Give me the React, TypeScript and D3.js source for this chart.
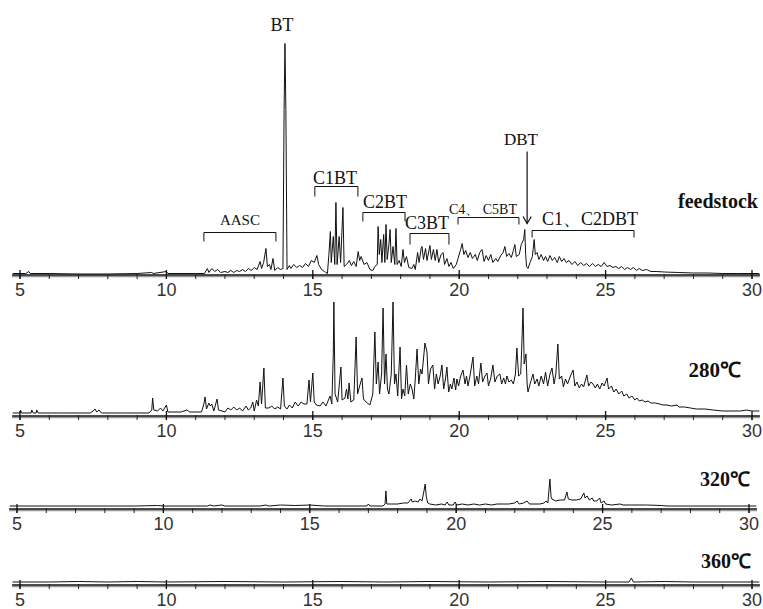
import { useEffect, useRef } from "react";
import * as d3 from "d3";

// retention time (min), abundance (arbitrary units)
const feedstock: [number, number][] = [
  [4.75, 1], [5.2, 1], [5.3, 3], [5.35, 1], [6.0, 1], [7.0, 0.5], [8.0, 0.5], [9.0, 1], [9.5, 2], [9.55, 1], [10.0, 3], [10.05, 1], [11.0, 1], [11.3, 1],
  [11.4, 6], [11.45, 2], [11.55, 6], [11.65, 3], [11.75, 5], [11.85, 2], [12.0, 3], [12.1, 2], [12.2, 4], [12.3, 2], [12.4, 4], [12.5, 3], [12.6, 5], [12.7, 3], [12.8, 6], [12.9, 4], [13.0, 7], [13.1, 5], [13.2, 13], [13.25, 6], [13.32, 12], [13.4, 26], [13.45, 8], [13.52, 10], [13.57, 5], [13.64, 16], [13.7, 4], [13.8, 7], [13.9, 5],
  [13.98, 6], [14.02, 165], [14.05, 231], [14.08, 165], [14.12, 5],
  [14.2, 9], [14.25, 6], [14.35, 10], [14.45, 7], [14.55, 9], [14.65, 7], [14.75, 11], [14.85, 8], [14.95, 14], [15.05, 12], [15.14, 19], [15.2, 10], [15.3, 5], [15.4, 3], [15.5, 1],
  [15.55, 20], [15.6, 43], [15.63, 12], [15.7, 38], [15.75, 10], [15.79, 72], [15.83, 10], [15.9, 38], [15.95, 12], [16.03, 67], [16.07, 8], [16.15, 10], [16.25, 14], [16.32, 9], [16.4, 13], [16.48, 8], [16.55, 23], [16.6, 14], [16.65, 18], [16.75, 10], [16.85, 12], [16.95, 5], [17.05, 4], [17.12, 8],
  [17.2, 10], [17.23, 48], [17.27, 20], [17.32, 35], [17.36, 12], [17.42, 40], [17.46, 12], [17.5, 50], [17.54, 15], [17.6, 30], [17.64, 45], [17.68, 12], [17.74, 28], [17.8, 10], [17.84, 46], [17.88, 10], [17.95, 14], [18.02, 8], [18.08, 25], [18.13, 12], [18.2, 18], [18.28, 7], [18.38, 6], [18.45, 10], [18.5, 5],
  [18.58, 22], [18.63, 12], [18.7, 26], [18.73, 28], [18.78, 15], [18.85, 26], [18.9, 14], [19.0, 29], [19.05, 15], [19.12, 25], [19.18, 14], [19.24, 25], [19.3, 12], [19.38, 20], [19.45, 22], [19.5, 10], [19.58, 16], [19.65, 8], [19.72, 12], [19.8, 6], [19.9, 10], [19.96, 16],
  [20.05, 25], [20.1, 31], [20.16, 20], [20.22, 24], [20.3, 17], [20.38, 22], [20.45, 16], [20.55, 20], [20.62, 14], [20.7, 22], [20.78, 25], [20.85, 13], [20.92, 19], [21.0, 14], [21.08, 20], [21.15, 12], [21.25, 16], [21.32, 13], [21.42, 19], [21.5, 22], [21.56, 28], [21.62, 18], [21.7, 21], [21.78, 17], [21.85, 24], [21.9, 30], [21.95, 18], [22.05, 20],
  [22.12, 30], [22.2, 35], [22.24, 45], [22.27, 20], [22.3, 8], [22.35, 6], [22.42, 12], [22.5, 18], [22.56, 35], [22.6, 20], [22.66, 22], [22.72, 15], [22.8, 20], [22.88, 14], [22.95, 18], [23.02, 13], [23.1, 19], [23.18, 14], [23.26, 17], [23.35, 12], [23.42, 18], [23.5, 13], [23.58, 16], [23.66, 12], [23.75, 14], [23.85, 10], [23.95, 13], [24.05, 9], [24.15, 12], [24.25, 9], [24.35, 11], [24.45, 8], [24.55, 11], [24.65, 8], [24.75, 10], [24.85, 8], [24.95, 12], [25.05, 8], [25.15, 9], [25.25, 7], [25.35, 8], [25.45, 6], [25.55, 8], [25.65, 5], [25.75, 7], [25.85, 5], [25.95, 7], [26.05, 4], [26.15, 6], [26.25, 4], [26.4, 5], [26.55, 3], [26.75, 3], [27.0, 2.5], [27.5, 2], [28.0, 1.5], [28.5, 1.5], [29.0, 1], [29.5, 1], [30.0, 1], [30.25, 1],
];

const run280: [number, number][] = [
  [4.75, 1], [5.0, 1], [5.02, 4], [5.05, 1], [5.38, 1], [5.4, 4], [5.45, 1], [5.55, 1], [5.57, 4], [5.62, 1], [6.5, 1], [7.4, 1], [7.5, 3], [7.56, 5], [7.62, 2], [7.7, 4], [7.78, 1], [8.5, 1], [9.4, 1], [9.5, 4], [9.53, 16], [9.57, 4], [9.7, 3], [9.8, 6], [9.88, 3], [10.0, 9], [10.05, 2], [10.5, 2], [10.7, 4], [10.8, 2], [11.2, 2],
  [11.28, 10], [11.32, 17], [11.37, 5], [11.45, 11], [11.5, 8], [11.55, 10], [11.62, 3], [11.73, 15], [11.78, 4], [11.9, 3], [12.0, 2], [12.1, 6], [12.2, 4], [12.3, 7], [12.4, 4], [12.5, 6], [12.6, 3], [12.72, 8], [12.8, 4], [12.88, 6], [12.95, 12], [13.0, 3], [13.08, 14], [13.14, 8], [13.2, 32], [13.25, 10], [13.33, 46], [13.38, 6], [13.5, 6], [13.6, 8], [13.7, 5], [13.8, 7], [13.9, 5],
  [13.98, 36], [14.03, 8], [14.12, 5], [14.2, 9], [14.3, 6], [14.4, 12], [14.5, 8], [14.6, 12], [14.7, 10], [14.8, 10], [14.87, 34], [14.92, 12], [15.0, 41], [15.05, 12], [15.12, 9], [15.25, 8], [15.35, 12], [15.45, 8], [15.59, 18], [15.65, 10],
  [15.7, 60], [15.72, 112], [15.76, 20], [15.85, 12], [15.96, 47], [16.0, 14], [16.1, 16], [16.15, 25], [16.2, 15], [16.24, 31], [16.3, 12], [16.4, 14], [16.48, 77], [16.53, 20], [16.6, 28], [16.68, 36], [16.73, 15], [16.82, 12], [16.95, 9], [17.05, 20],
  [17.12, 82], [17.17, 30], [17.23, 52], [17.28, 20], [17.35, 40], [17.4, 106], [17.45, 30], [17.5, 60], [17.55, 25], [17.6, 20], [17.68, 40], [17.74, 112], [17.79, 30], [17.84, 40], [17.9, 18], [17.98, 67], [18.03, 15], [18.08, 25], [18.14, 18], [18.2, 49], [18.26, 20], [18.33, 30], [18.39, 25], [18.45, 15], [18.5, 35], [18.56, 65], [18.62, 30], [18.68, 45], [18.73, 40], [18.78, 55], [18.83, 71], [18.9, 62], [18.95, 30], [19.02, 45], [19.1, 49], [19.16, 25], [19.22, 40], [19.28, 30], [19.35, 38], [19.41, 49], [19.47, 25], [19.53, 35], [19.58, 47], [19.64, 22], [19.7, 30], [19.75, 25], [19.82, 36], [19.88, 24], [19.92, 35], [19.98, 28],
  [20.05, 38], [20.13, 44], [20.2, 30], [20.25, 38], [20.3, 28], [20.38, 40], [20.47, 57], [20.53, 28], [20.6, 38], [20.66, 30], [20.74, 51], [20.8, 32], [20.88, 38], [20.95, 41], [21.0, 28], [21.08, 36], [21.15, 49], [21.22, 32], [21.3, 38], [21.39, 40], [21.45, 30], [21.52, 36], [21.58, 30], [21.63, 38], [21.7, 32], [21.78, 34], [21.85, 30], [21.92, 40], [21.97, 66], [22.03, 38], [22.1, 40], [22.14, 70], [22.18, 106], [22.22, 50], [22.28, 60], [22.32, 30], [22.35, 22],
  [22.42, 30], [22.52, 40], [22.58, 30], [22.66, 35], [22.72, 28], [22.8, 38], [22.88, 30], [22.95, 42], [23.02, 28], [23.1, 40], [23.17, 46], [23.24, 30], [23.3, 40], [23.37, 70], [23.42, 35], [23.5, 38], [23.56, 27], [23.63, 35], [23.7, 30], [23.8, 38], [23.89, 44], [23.95, 28], [24.02, 32], [24.1, 26], [24.18, 30], [24.25, 27], [24.36, 39], [24.42, 28], [24.5, 32], [24.57, 30], [24.65, 26], [24.72, 30], [24.8, 25], [24.88, 31], [24.95, 28], [25.05, 36], [25.1, 25], [25.2, 28], [25.28, 22], [25.36, 25], [25.45, 20], [25.55, 23], [25.62, 18], [25.72, 20], [25.8, 16], [25.9, 18], [26.0, 14], [26.07, 16], [26.15, 13], [26.25, 14], [26.35, 12], [26.45, 13], [26.55, 11], [26.7, 11], [26.85, 10], [26.96, 9], [27.1, 9], [27.25, 8], [27.44, 9], [27.5, 7], [27.7, 7], [27.9, 6], [28.1, 5], [28.4, 5], [28.67, 4], [29.0, 3], [29.25, 3], [29.6, 3], [29.8, 4], [30.0, 3], [30.25, 3],
];

const run320: [number, number][] = [
  [4.75, 1], [9.0, 1], [9.8, 1.5], [10.0, 1], [11.5, 1], [11.6, 2], [11.7, 1], [12.0, 2], [12.1, 1], [13.3, 1], [13.5, 2], [13.6, 1], [14.0, 2], [14.5, 1.5], [15.0, 2], [15.5, 1], [16.5, 1], [16.95, 1], [17.0, 3], [17.05, 1], [17.5, 1], [17.57, 3], [17.6, 16], [17.63, 3],
  [17.8, 3], [18.0, 3], [18.2, 4], [18.35, 4], [18.46, 8], [18.5, 5], [18.6, 6], [18.7, 5], [18.76, 8], [18.83, 6], [18.9, 16], [18.94, 23], [18.98, 10], [19.03, 4], [19.1, 3], [19.3, 2], [19.5, 3], [19.62, 2], [19.69, 5], [19.75, 2], [19.9, 2], [19.96, 5], [20.02, 2],
  [20.2, 3], [20.4, 2], [20.6, 3], [20.8, 2], [21.0, 3], [21.2, 2], [21.4, 3], [21.6, 3], [21.8, 3], [22.0, 4], [22.08, 6], [22.15, 3], [22.3, 4], [22.42, 6], [22.5, 3], [22.86, 3], [23.0, 4], [23.07, 6], [23.13, 4], [23.2, 28], [23.24, 10], [23.27, 8],
  [23.4, 6], [23.55, 7], [23.7, 7], [23.78, 15], [23.83, 8], [23.95, 7], [24.1, 7], [24.25, 8], [24.36, 14], [24.4, 9], [24.47, 11], [24.55, 7], [24.64, 9], [24.7, 6], [24.8, 6], [24.9, 9], [24.95, 4], [25.05, 6], [25.1, 3], [25.3, 2], [25.6, 3], [25.7, 2], [26.0, 2], [26.5, 2], [27.0, 1.5], [27.2, 1], [28.0, 1], [30.25, 1],
];

const run360: [number, number][] = [
  [4.75, 1], [6, 1], [7, 1.5], [8, 1], [9, 1.5], [10, 1], [12, 1.5], [14, 1], [16, 1.5], [17.5, 1], [19, 1.5], [21, 1], [23, 1.5], [25, 1], [25.8, 1], [25.88, 5], [25.95, 1], [27, 1.5], [28, 1], [30.25, 1],
];

const seriesNames = ["feedstock", "280℃", "320℃", "360℃"];
const majorTicks = [5, 10, 15, 20, 25, 30];
const minorTicks = d3.range(5, 31);

// bracket groups on the feedstock trace: [label, start, end, top, bottom, labelT, labelH]
const groups: [string, number, number, number, number, number, number][] = [
  ["AASC", 11.28, 13.74, 42, 33, 12.51, 50],
  ["C1BT", 15.07, 16.54, 88, 78, 15.76, 91],
  ["C2BT", 16.71, 18.15, 62, 53, 17.47, 67],
  ["C3BT", 18.32, 19.65, 41, 30, 18.9, 46],
  ["C4、 C5BT", 19.96, 22.04, 57, 50, 20.81, 61],
  ["C1、C2DBT", 22.49, 25.97, 44, 37, 24.47, 50],
];

const W = 763;
const H = 609;
// layout per panel: axis y, trace lift, x shift, label right edge, label baseline
const panels = [
  { data: feedstock, axisY: 275, lift: 0.5, shift: 0, labelX: 758, labelY: 208, size: 20 },
  { data: run280, axisY: 416, lift: 2, shift: 0, labelX: 741, labelY: 377, size: 21 },
  { data: run320, axisY: 509, lift: 2, shift: -3, labelX: 750, labelY: 486, size: 20 },
  { data: run360, axisY: 585, lift: 2, shift: 0, labelX: 751, labelY: 568, size: 20 },
];

export default function App() {
  const svgRef = useRef<SVGSVGElement>(null);

  useEffect(() => {
    const svg = d3.select(svgRef.current);
    svg.selectAll("*").remove();
    svg.append("rect").attr("width", W).attr("height", H).attr("fill", "#fff");

    panels.forEach((p, i) => {
      const x = d3
        .scaleLinear()
        .domain([5, 30])
        .range([20 + p.shift, 752 + p.shift]);
      const base = p.axisY - p.lift;
      const y = d3.scaleLinear().domain([0, 100]).range([base, base - 100]);
      const g = svg.append("g");

      // axis: dark rule with a grey shadow underneath
      g.append("line")
        .attr("x1", x(4.73)).attr("x2", x(30.27))
        .attr("y1", p.axisY + 1.5).attr("y2", p.axisY + 1.5)
        .attr("stroke", "#999").attr("stroke-width", 1.6);
      g.append("line")
        .attr("x1", x(4.73)).attr("x2", x(30.27))
        .attr("y1", p.axisY).attr("y2", p.axisY)
        .attr("stroke", "#111").attr("stroke-width", 1.5);
      g.selectAll(".minor")
        .data(minorTicks)
        .enter()
        .append("line")
        .attr("x1", (d) => x(d)).attr("x2", (d) => x(d))
        .attr("y1", p.axisY - 1).attr("y2", p.axisY + 4)
        .attr("stroke", "#222");
      g.selectAll(".major")
        .data(majorTicks)
        .enter()
        .append("line")
        .attr("x1", (d) => x(d)).attr("x2", (d) => x(d))
        .attr("y1", p.axisY - 5).attr("y2", p.axisY + 4)
        .attr("stroke", "#111").attr("stroke-width", 1.3);
      g.selectAll(".lbl")
        .data(majorTicks)
        .enter()
        .append("text")
        .attr("x", (d) => x(d))
        .attr("y", p.axisY + 21)
        .attr("text-anchor", "middle")
        .attr("font-family", "'Liberation Sans Narrow', 'Arial Narrow', sans-serif")
        .attr("font-size", 18)
        .attr("fill", "#333")
        .text((d) => d);

      // trace
      const line = d3
        .line<[number, number]>()
        .x((d) => x(d[0]))
        .y((d) => y(d[1]));
      g.append("path")
        .datum(p.data)
        .attr("d", line)
        .attr("fill", "none")
        .attr("stroke", "#111")
        .attr("stroke-width", 1);

      g.append("text")
        .attr("x", p.labelX)
        .attr("y", p.labelY)
        .attr("text-anchor", "end")
        .attr("font-family", "'Times New Roman', 'Liberation Serif', serif")
        .attr("font-weight", "bold")
        .attr("font-size", p.size)
        .attr("fill", "#111")
        .text(seriesNames[i]);

      if (i === 0) {
        const serif = "'Times New Roman', 'Liberation Serif', serif";
        g.append("text")
          .attr("x", x(13.95)).attr("y", y(244))
          .attr("text-anchor", "middle")
          .attr("font-family", serif).attr("font-size", 18).attr("fill", "#111")
          .text("BT");
        groups.forEach(([label, t0, t1, top, bot, lt, lh]) => {
          g.append("path")
            .attr("d", `M${x(t0)},${y(bot)}V${y(top)}H${x(t1)}V${y(bot)}`)
            .attr("fill", "none").attr("stroke", "#111").attr("stroke-width", 1);
          const small = label.startsWith("C4");
          g.append("text")
            .attr("x", x(lt)).attr("y", y(lh))
            .attr("text-anchor", "middle")
            .attr("font-family", serif)
            .attr("font-size", label === "AASC" ? 15 : small ? 14 : 18)
            .attr("fill", "#111")
            .text(label);
        });
        // DBT arrow
        g.append("text")
          .attr("x", x(22.11)).attr("y", y(130))
          .attr("text-anchor", "middle")
          .attr("font-family", serif).attr("font-size", 17).attr("fill", "#111")
          .text("DBT");
        g.append("line")
          .attr("x1", x(22.32)).attr("x2", x(22.32))
          .attr("y1", y(123)).attr("y2", y(51))
          .attr("stroke", "#111").attr("stroke-width", 1.2);
        g.append("path")
          .attr("d", `M${x(22.18)},${y(58)}L${x(22.32)},${y(51)}L${x(22.46)},${y(58)}`)
          .attr("fill", "none").attr("stroke", "#111").attr("stroke-width", 1.2);
      }
    });
  }, []);

  return (
    <svg
      ref={svgRef}
      width={W}
      height={H}
      style={{ position: "absolute", left: 0, top: 0, display: "block" }}
    />
  );
}
